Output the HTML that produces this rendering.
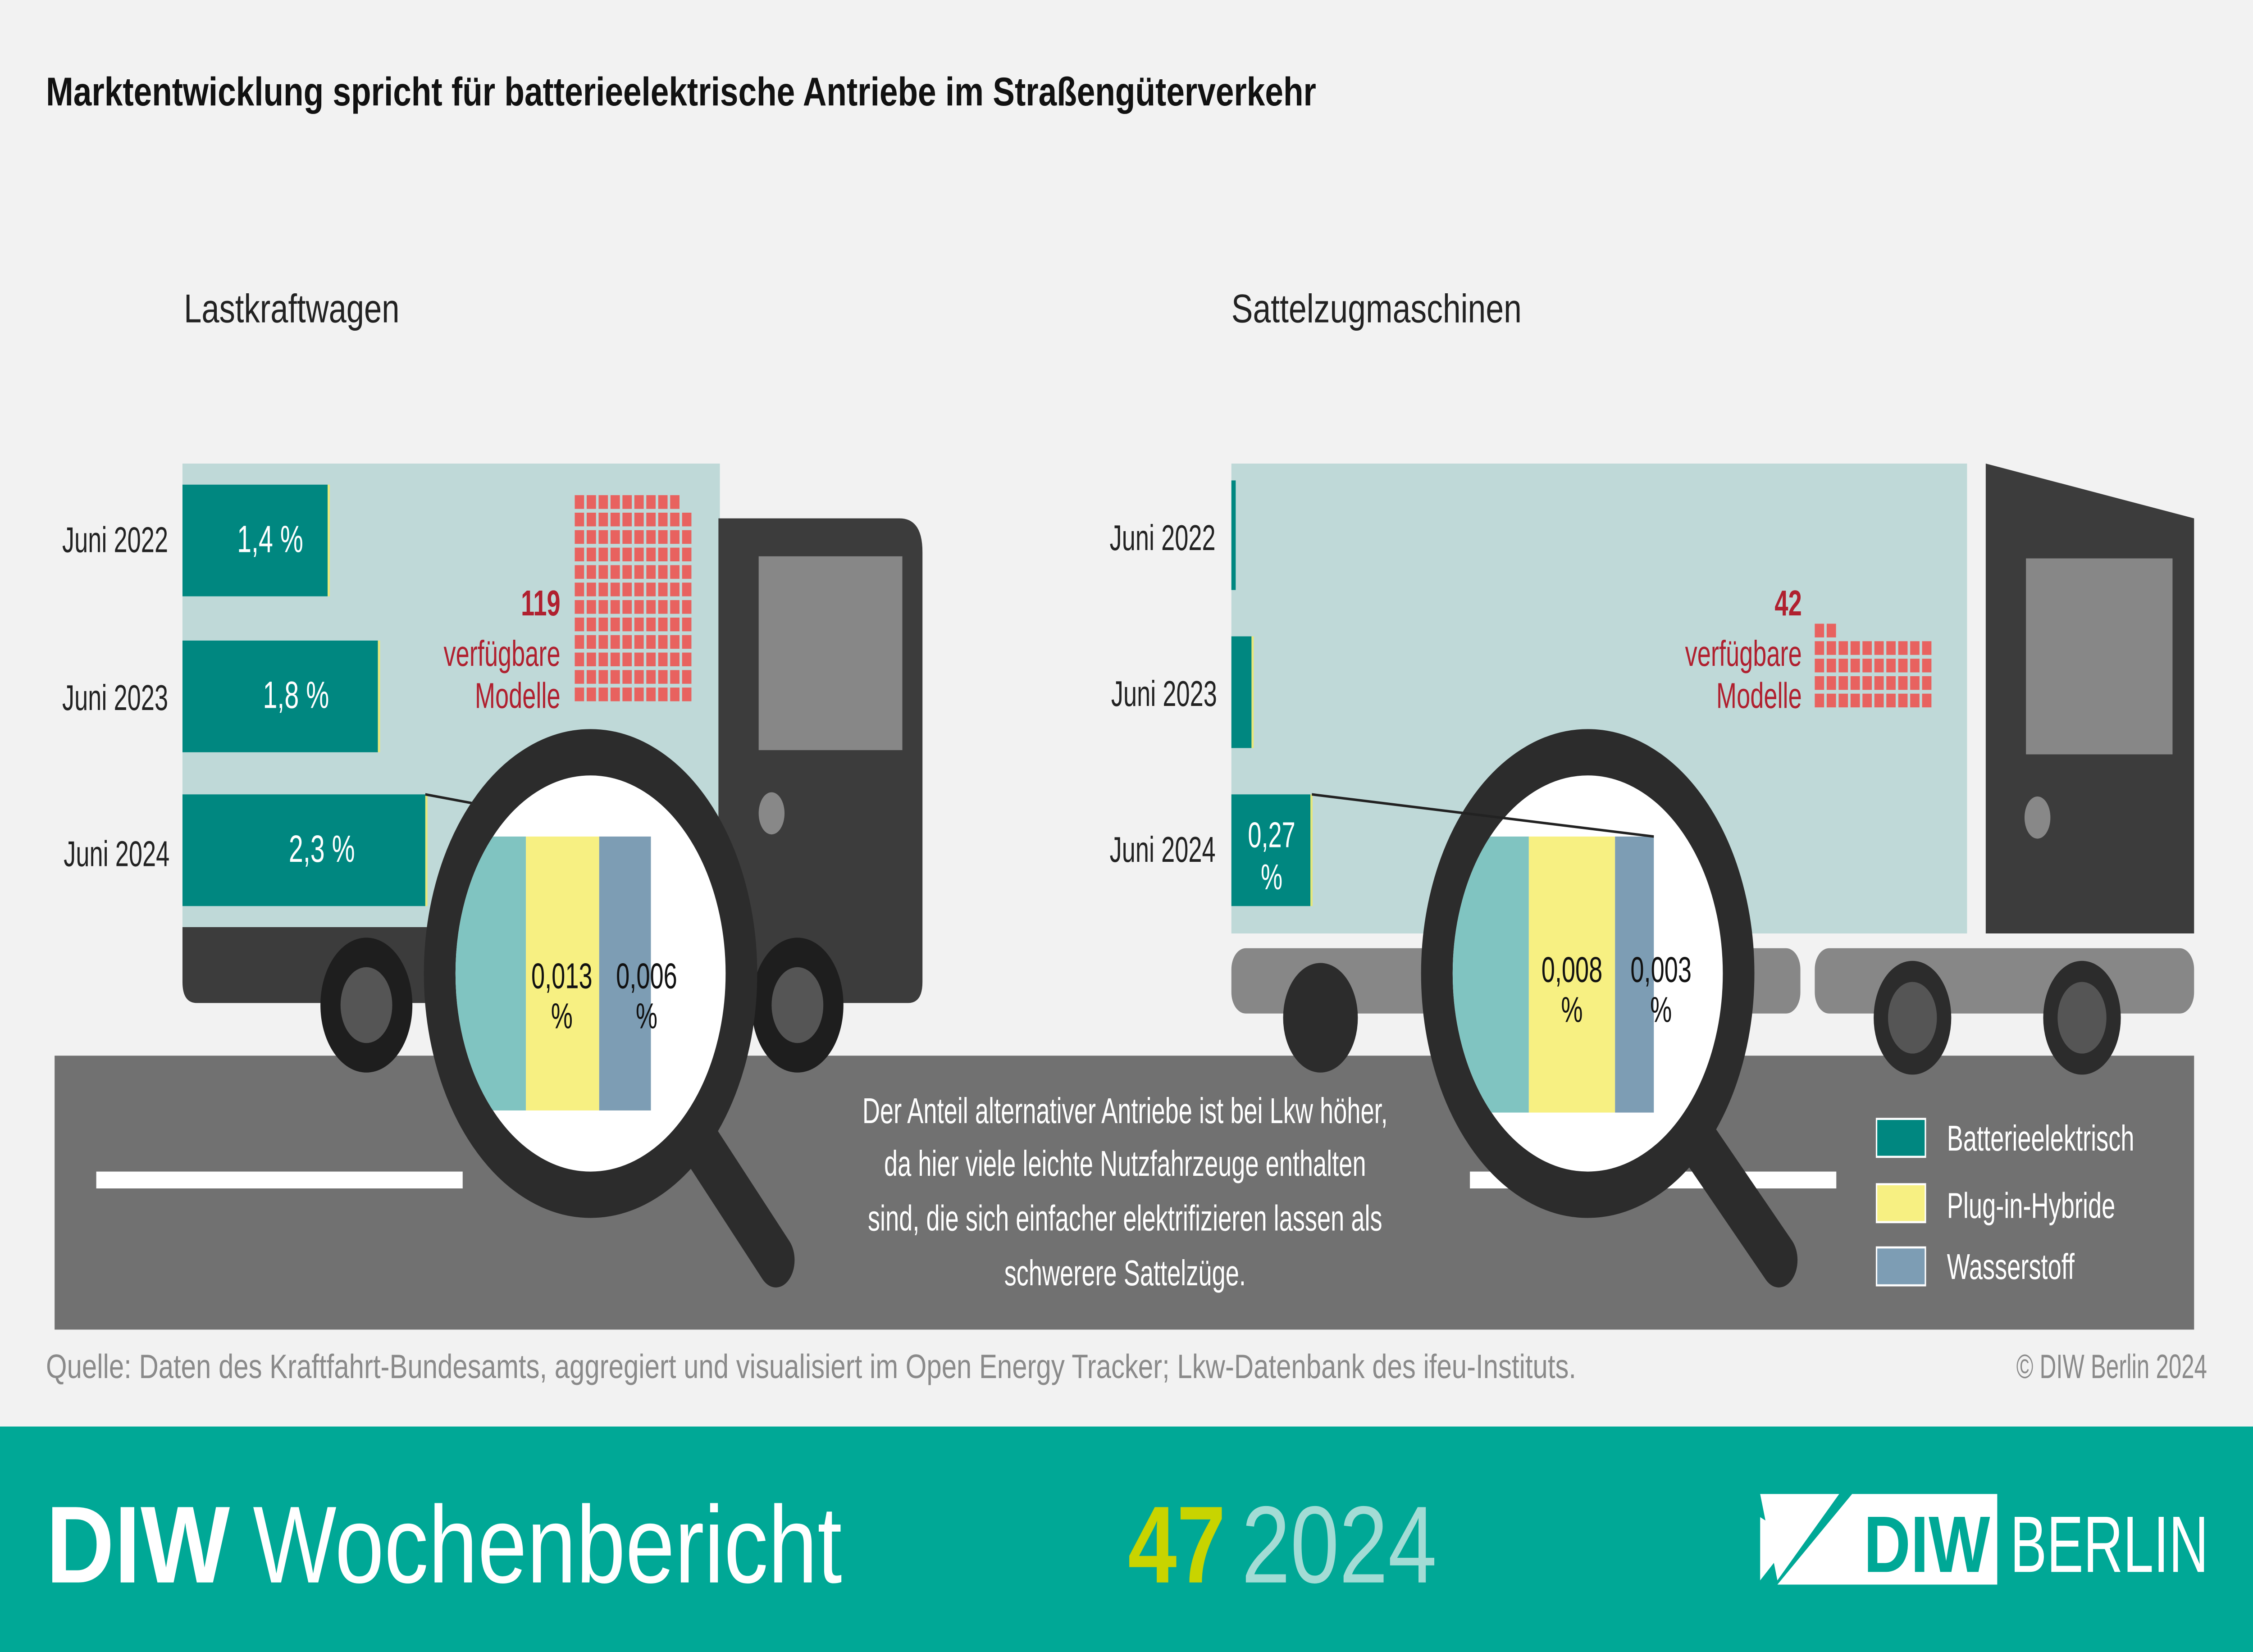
<!DOCTYPE html>
<html><head><meta charset="utf-8"><style>html,body{margin:0;padding:0;background:#f2f2f2;width:100%;height:100%;overflow:hidden}svg{display:block;width:100vw;height:100vh;position:absolute;left:0;top:0}text{font-family:"Liberation Sans",sans-serif}</style></head><body>
<svg viewBox="0 0 1568 784" preserveAspectRatio="none" xmlns="http://www.w3.org/2000/svg">
<defs><g id="row10"><rect x="0" width="6.5" height="6.5"/><rect x="8.3" width="6.5" height="6.5"/><rect x="16.6" width="6.5" height="6.5"/><rect x="24.9" width="6.5" height="6.5"/><rect x="33.2" width="6.5" height="6.5"/><rect x="41.5" width="6.5" height="6.5"/><rect x="49.8" width="6.5" height="6.5"/><rect x="58.1" width="6.5" height="6.5"/><rect x="66.4" width="6.5" height="6.5"/><rect x="74.7" width="6.5" height="6.5"/></g>
<clipPath id="c1"><circle cx="411" cy="462" r="94"/></clipPath>
<clipPath id="c2"><circle cx="1105" cy="462" r="94"/></clipPath></defs>
<rect width="1568" height="784" fill="#f2f2f2"/>
<text x="32" y="50" font-size="19" font-weight="bold" fill="#111" textLength="884" lengthAdjust="spacingAndGlyphs">Marktentwicklung spricht für batterieelektrische Antriebe im Straßengüterverkehr</text>
<text x="128" y="153" font-size="19" fill="#222" textLength="150" lengthAdjust="spacingAndGlyphs">Lastkraftwagen</text>
<text x="857" y="153" font-size="19" fill="#222" textLength="202" lengthAdjust="spacingAndGlyphs">Sattelzugmaschinen</text>
<rect x="38" y="501" width="1489" height="130" fill="#717171"/>
<rect x="67" y="556" width="255" height="8" fill="#fff"/>
<rect x="1023" y="556" width="255" height="8" fill="#fff"/>
<rect x="127" y="220" width="374" height="220" fill="#bfd9d8"/>
<path d="M500 246 H626 Q642 246 642 262 V466 Q642 476 632 476 H137 Q127 476 127 466 V440 H500 Z" fill="#3c3c3c"/>
<rect x="528" y="264" width="100" height="92" fill="#878787"/>
<ellipse cx="537" cy="386" rx="9" ry="10" fill="#888"/>
<circle cx="255" cy="477" r="32" fill="#1e1e1e"/><circle cx="255" cy="477" r="18" fill="#555"/>
<circle cx="555" cy="477" r="32" fill="#1e1e1e"/><circle cx="555" cy="477" r="18" fill="#555"/>
<rect x="127" y="230" width="101" height="53" fill="#008780"/><rect x="228" y="230" width="1.5" height="53" fill="#e8e87a"/>
<rect x="127" y="304" width="136" height="53" fill="#008780"/><rect x="263" y="304" width="1.5" height="53" fill="#e8e87a"/>
<rect x="127" y="377" width="169" height="53" fill="#008780"/><rect x="296" y="377" width="1.5" height="53" fill="#e8e87a"/>
<g font-size="18" fill="#fff" text-anchor="middle"><text x="188" y="262">1,4 %</text><text x="206" y="336">1,8 %</text><text x="224" y="409">2,3 %</text></g>
<g font-size="17" fill="#222" text-anchor="end"><text x="117" y="262">Juni 2022</text><text x="117" y="337">Juni 2023</text><text x="118" y="411">Juni 2024</text></g>
<g font-size="17" fill="#222" text-anchor="end"><text x="846" y="261">Juni 2022</text><text x="847" y="335">Juni 2023</text><text x="846" y="409">Juni 2024</text></g>
<g fill="#e8625f">
<path d="M400 235h6.5v6.5h-6.5zM408.3 235h6.5v6.5h-6.5zM416.6 235h6.5v6.5h-6.5zM424.9 235h6.5v6.5h-6.5zM433.2 235h6.5v6.5h-6.5zM441.5 235h6.5v6.5h-6.5zM449.8 235h6.5v6.5h-6.5zM458.1 235h6.5v6.5h-6.5zM466.4 235h6.5v6.5h-6.5z"/>
<use href="#row10" x="400" y="243.3"/><use href="#row10" x="400" y="251.6"/><use href="#row10" x="400" y="259.9"/><use href="#row10" x="400" y="268.2"/><use href="#row10" x="400" y="276.5"/><use href="#row10" x="400" y="284.8"/><use href="#row10" x="400" y="293.1"/><use href="#row10" x="400" y="301.4"/><use href="#row10" x="400" y="309.7"/><use href="#row10" x="400" y="318"/><use href="#row10" x="400" y="326.3"/>
</g>
<g text-anchor="end" fill="#b0202f" font-size="17"><text x="390" y="292" font-weight="bold">119</text><text x="390" y="316">verfügbare</text><text x="390" y="336">Modelle</text></g>
<rect x="857" y="220" width="512" height="223" fill="#bfd9d8"/>
<path d="M1382 220 L1527 246 V443 H1382 Z" fill="#3c3c3c"/>
<rect x="1410" y="265" width="102" height="93" fill="#878787"/>
<ellipse cx="1418" cy="388" rx="9" ry="10" fill="#888"/>
<rect x="857" y="450" width="396" height="31" rx="10" fill="#878787"/>
<rect x="1263" y="450" width="264" height="31" rx="10" fill="#878787"/>
<circle cx="919" cy="483" r="26" fill="#2c2c2c"/>
<circle cx="1331" cy="483" r="27" fill="#2c2c2c"/><circle cx="1331" cy="483" r="17" fill="#555"/>
<circle cx="1449" cy="483" r="27" fill="#2c2c2c"/><circle cx="1449" cy="483" r="17" fill="#555"/>
<rect x="857" y="228" width="3" height="52" fill="#008780"/>
<rect x="857" y="302" width="14" height="53" fill="#008780"/><rect x="871" y="302" width="1.5" height="53" fill="#e8e87a"/>
<rect x="857" y="377" width="55" height="53" fill="#008780"/><rect x="912" y="377" width="1.5" height="53" fill="#e8e87a"/>
<g font-size="17" fill="#fff" text-anchor="middle"><text x="885" y="402">0,27</text><text x="885" y="422">%</text></g>
<g fill="#e8625f"><rect x="1263" y="296" width="6.5" height="6.5"/><rect x="1271.3" y="296" width="6.5" height="6.5"/>
<use href="#row10" x="1263" y="304.3"/><use href="#row10" x="1263" y="312.6"/><use href="#row10" x="1263" y="320.9"/><use href="#row10" x="1263" y="329.2"/></g>
<g text-anchor="end" fill="#b0202f" font-size="17"><text x="1254" y="292" font-weight="bold">42</text><text x="1254" y="316">verfügbare</text><text x="1254" y="336">Modelle</text></g>
<line x1="296" y1="377" x2="453" y2="397" stroke="#222" stroke-width="1.2"/>
<line x1="480" y1="535" x2="540" y2="598" stroke="#2c2c2c" stroke-width="26" stroke-linecap="round"/>
<circle cx="411" cy="462" r="105" fill="#fff" stroke="#2c2c2c" stroke-width="22"/>
<g clip-path="url(#c1)"><rect x="300" y="397" width="66" height="130" fill="#80c4c1"/><rect x="366" y="397" width="51" height="130" fill="#f7f082"/><rect x="417" y="397" width="36" height="130" fill="#7d9db4"/></g>
<g font-size="17" fill="#111" text-anchor="middle"><text x="391" y="469">0,013</text><text x="391" y="488">%</text><text x="450" y="469">0,006</text><text x="450" y="488">%</text></g>
<line x1="1175" y1="535" x2="1238" y2="598" stroke="#2c2c2c" stroke-width="26" stroke-linecap="round"/>
<circle cx="1105" cy="462" r="105" fill="#fff" stroke="#2c2c2c" stroke-width="22"/>
<g clip-path="url(#c2)"><rect x="1000" y="397" width="64" height="131" fill="#80c4c1"/><rect x="1064" y="397" width="60" height="131" fill="#f7f082"/><rect x="1124" y="397" width="27" height="131" fill="#7d9db4"/></g>
<line x1="913" y1="377" x2="1151" y2="397" stroke="#222" stroke-width="1.2"/>
<g font-size="17" fill="#111" text-anchor="middle"><text x="1094" y="466">0,008</text><text x="1094" y="485">%</text><text x="1156" y="466">0,003</text><text x="1156" y="485">%</text></g>
<g font-size="17" fill="#fff" text-anchor="middle"><text x="783" y="533">Der Anteil alternativer Antriebe ist bei Lkw höher,</text><text x="783" y="558">da hier viele leichte Nutzfahrzeuge enthalten</text><text x="783" y="584">sind, die sich einfacher elektrifizieren lassen als</text><text x="783" y="610">schwerere Sattelzüge.</text></g>
<rect x="1306" y="531" width="34" height="18" fill="#008780" stroke="#fff"/>
<rect x="1306" y="562" width="34" height="18" fill="#f7f082" stroke="#fff"/>
<rect x="1306" y="592" width="34" height="18" fill="#7d9db4" stroke="#fff"/>
<g font-size="17" fill="#fff"><text x="1355" y="546">Batterieelektrisch</text><text x="1355" y="578">Plug-in-Hybride</text><text x="1355" y="607">Wasserstoff</text></g>
<text x="32" y="654" font-size="16" fill="#8a8a8a" textLength="1065" lengthAdjust="spacingAndGlyphs">Quelle: Daten des Kraftfahrt-Bundesamts, aggregiert und visualisiert im Open Energy Tracker; Lkw-Datenbank des ifeu-Instituts.</text>
<text x="1536" y="654" font-size="16" fill="#8a8a8a" text-anchor="end">© DIW Berlin 2024</text>
<rect x="0" y="677" width="1568" height="107" fill="#00a896"/>
<text x="32" y="751" font-size="52" font-weight="bold" fill="#fff" textLength="128" lengthAdjust="spacingAndGlyphs">DIW</text>
<text x="176" y="751" font-size="52" fill="#fff" textLength="410" lengthAdjust="spacingAndGlyphs">Wochenbericht</text>
<text x="785" y="751" font-size="52" font-weight="bold" fill="#c8d400" textLength="68" lengthAdjust="spacingAndGlyphs">47</text>
<text x="864" y="751" font-size="52" fill="#a3dcd5" textLength="136" lengthAdjust="spacingAndGlyphs">2024</text>
<path d="M1225 709 H1280 L1237 750 Z M1289 709 H1390 V752 H1237 Z" fill="#fff"/>
<path d="M1225 720 L1225 750 L1248 730 Z" fill="#fff"/>
<text x="1297" y="746" font-size="38" font-weight="bold" fill="#00a896" textLength="88" lengthAdjust="spacingAndGlyphs">DIW</text>
<text x="1399" y="746" font-size="38" fill="#fff" textLength="138" lengthAdjust="spacingAndGlyphs">BERLIN</text>
</svg>
</body></html>
